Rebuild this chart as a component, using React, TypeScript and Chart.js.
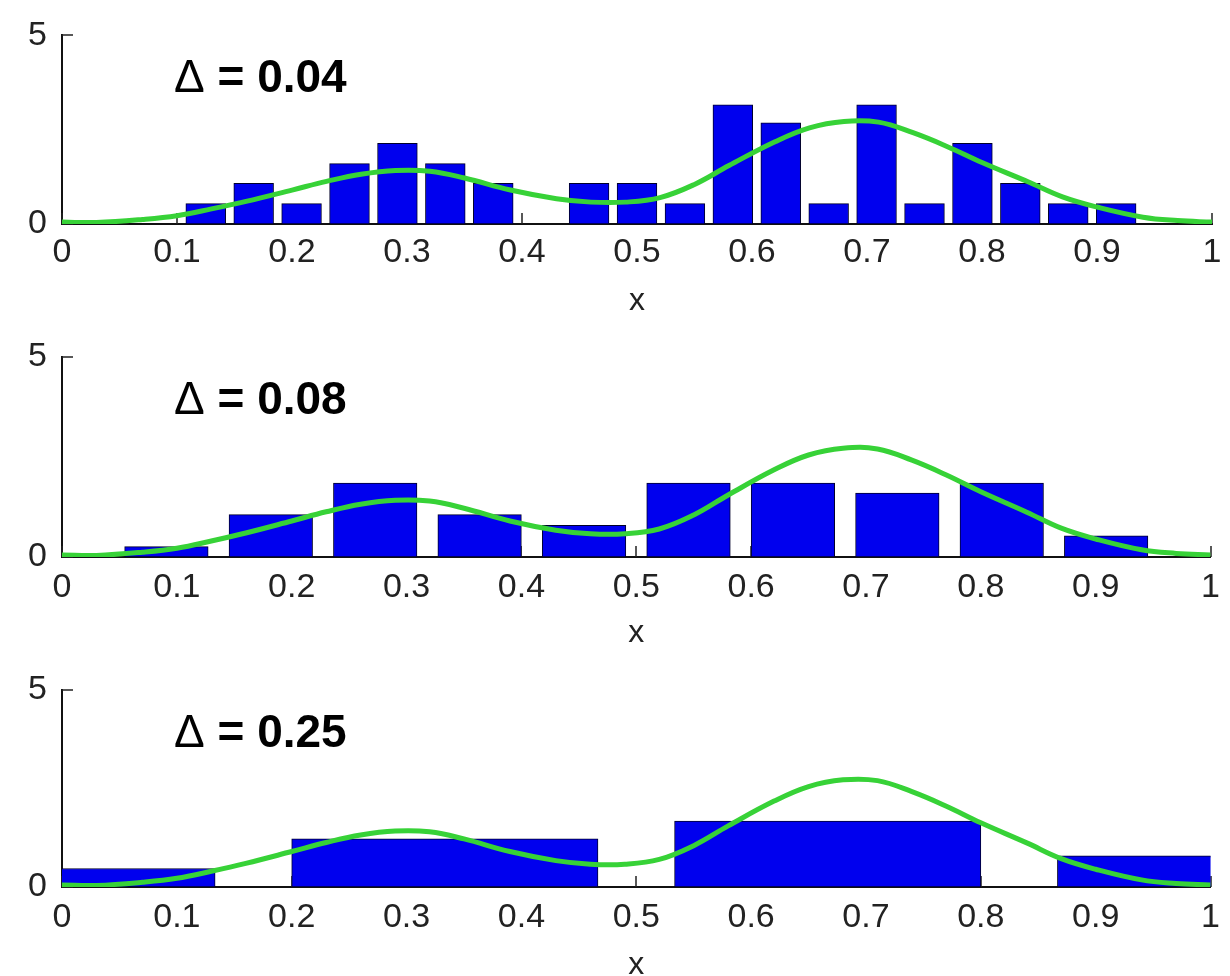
import React, { useEffect, useRef } from 'react';
import { Chart, registerables } from 'chart.js';

Chart.register(...registerables);

// Green density curve (same curve in every panel)
const curveX = [0, 0.03, 0.07, 0.1, 0.13, 0.16, 0.2, 0.23, 0.26, 0.29, 0.32, 0.35, 0.39, 0.43, 0.46, 0.49, 0.52, 0.55, 0.58, 0.62, 0.65, 0.68, 0.71, 0.74, 0.77, 0.8, 0.84, 0.87, 0.9, 0.94, 0.97, 1.0];
const curveY = [0.05, 0.04, 0.12, 0.22, 0.4, 0.6, 0.9, 1.13, 1.32, 1.42, 1.4, 1.22, 0.9, 0.67, 0.58, 0.58, 0.7, 1.05, 1.55, 2.18, 2.55, 2.72, 2.7, 2.42, 2.05, 1.63, 1.12, 0.72, 0.45, 0.18, 0.09, 0.05];

// Panel 1: delta = 0.04
const binCenters1 = [0, 0.0417, 0.0833, 0.125, 0.1667, 0.2083, 0.25, 0.2917, 0.3333, 0.375, 0.4167, 0.4583, 0.5, 0.5417, 0.5833, 0.625, 0.6667, 0.7083, 0.75, 0.7917, 0.8333, 0.875, 0.9167, 0.9583, 1];
const density1 = [0, 0, 0, 0.54, 1.08, 0.54, 1.6, 2.14, 1.6, 1.08, 0, 1.08, 1.08, 0.54, 3.16, 2.68, 0.54, 3.16, 0.54, 2.14, 1.08, 0.54, 0.54, 0, 0];

// Panel 2: delta = 0.08
const binCenters2 = [0, 0.0909, 0.1818, 0.2727, 0.3636, 0.4545, 0.5455, 0.6364, 0.7273, 0.8182, 0.9091, 1];
const density2 = [0, 0.26, 1.06, 1.85, 1.06, 0.79, 1.85, 1.85, 1.6, 1.85, 0.53, 0];

// Panel 3: delta = 0.25
const binCenters3 = [0, 0.3333, 0.6667, 1];
const density3 = [0.47, 1.22, 1.67, 0.79];

const deltaLabels = ['0.04', '0.08', '0.25'];

const xTickValues = [0, 0.1, 0.2, 0.3, 0.4, 0.5, 0.6, 0.7, 0.8, 0.9, 1];
const xTickLabels = ['0', '0.1', '0.2', '0.3', '0.4', '0.5', '0.6', '0.7', '0.8', '0.9', '1'];
const yTickValues = [0, 5];
const yTickLabels = ['0', '5'];

const TICK_FONT = "'Liberation Sans Narrow', 'Liberation Sans', Arial, sans-serif";
const LABEL_FONT = "'Liberation Sans', Arial, sans-serif";

const inwardTicks = {
  id: 'inwardTicks',
  beforeDatasetsDraw(chart: any) {
    const { ctx, chartArea, scales } = chart;
    const xs = scales.x;
    const ys = scales.y;
    ctx.save();
    ctx.strokeStyle = '#222';
    ctx.lineWidth = 1.5;
    ctx.beginPath();
    xs.ticks.forEach((t: any) => {
      const px = Math.round(xs.getPixelForValue(t.value));
      ctx.moveTo(px, chartArea.bottom);
      ctx.lineTo(px, chartArea.bottom - 11);
    });
    ys.ticks.forEach((t: any) => {
      const py = Math.round(ys.getPixelForValue(t.value));
      ctx.moveTo(chartArea.left, py);
      ctx.lineTo(chartArea.left + 11, py);
    });
    ctx.stroke();
    ctx.restore();
  },
};

const deltaLabel = {
  id: 'deltaLabel',
  afterDatasetsDraw(chart: any, _args: any, opts: any) {
    const { ctx, chartArea } = chart;
    ctx.save();
    ctx.fillStyle = '#000';
    ctx.textBaseline = 'alphabetic';
    ctx.textAlign = 'left';
    const x0 = chartArea.left + 112;
    const y0 = chartArea.top + 57;
    ctx.font = `normal 46px ${LABEL_FONT}`;
    ctx.fillText('\u0394', x0, y0);
    const w = ctx.measureText('\u0394').width;
    ctx.font = `bold 46px ${LABEL_FONT}`;
    ctx.fillText(' = ' + opts.value, x0 + w, y0);
    ctx.restore();
  },
};

type PanelProps = {
  top: number;
  height: number;
  areaTop: number;
  areaBottom: number;
  centers: number[];
  values: number[];
  delta: string;
  barPct: number;
  labelPad: number;
  titlePad: number;
};

function Panel(p: PanelProps) {
  const ref = useRef<HTMLCanvasElement>(null);
  useEffect(() => {
    const chart = new Chart(ref.current as HTMLCanvasElement, {
      type: 'bar',
      data: {
        datasets: [
          {
            type: 'line',
            label: 'density',
            data: curveX.map((x, i) => ({ x, y: curveY[i] })),
            borderColor: 'rgb(55,210,55)',
            borderWidth: 5,
            pointRadius: 0,
            tension: 0.4,
            fill: false,
            order: 0,
          } as any,
          {
            type: 'bar',
            label: 'histogram',
            data: p.centers.map((x, i) => ({ x, y: p.values[i] })),
            backgroundColor: 'rgb(0,0,238)',
            borderColor: '#00002a',
            borderWidth: 1,
            borderSkipped: false,
            barThickness: 'flex',
            categoryPercentage: 1,
            barPercentage: p.barPct,
            order: 1,
            clip: 0,
          } as any,
        ],
      },
      options: {
        animation: false,
        responsive: false,
        maintainAspectRatio: false,
        events: [],
        layout: { padding: { left: 0, right: 18, top: p.areaTop, bottom: 0 } },
        plugins: {
          legend: { display: false },
          tooltip: { enabled: false },
          deltaLabel: { value: p.delta },
        } as any,
        scales: {
          x: {
            type: 'linear',
            min: 0,
            max: 1,
            offset: false,
            grid: { display: false, drawTicks: false },
            border: { display: true, color: '#111', width: 2 },
            afterBuildTicks: (s: any) => {
              s.ticks = xTickValues.map((v) => ({ value: v }));
            },
            ticks: {
              autoSkip: false,
              maxRotation: 0,
              minRotation: 0,
              padding: p.labelPad,
              color: '#222',
              font: { family: TICK_FONT, size: 34 },
              callback: (_v: any, i: number) => xTickLabels[i],
            },
            title: {
              display: true,
              text: 'x',
              color: '#222',
              font: { family: TICK_FONT, size: 32, lineHeight: 0.7 },
              padding: { top: 0, bottom: p.titlePad },
            },
            afterFit: (s: any) => {
              s.height = p.height - p.areaBottom;
            },
          },
          y: {
            type: 'linear',
            min: 0,
            max: 5,
            grid: { display: false, drawTicks: false },
            border: { display: true, color: '#111', width: 2 },
            afterBuildTicks: (s: any) => {
              s.ticks = yTickValues.map((v) => ({ value: v }));
            },
            ticks: {
              padding: 15,
              color: '#222',
              font: { family: TICK_FONT, size: 34 },
              callback: (_v: any, i: number) => yTickLabels[i],
            },
            afterFit: (s: any) => {
              s.width = 62;
            },
          },
        } as any,
      },
      plugins: [inwardTicks, deltaLabel] as any,
    });
    return () => chart.destroy();
  }, []);
  return (
    <canvas
      ref={ref}
      width={1230}
      height={p.height}
      style={{ position: 'absolute', left: 0, top: p.top, width: 1230, height: p.height, display: 'block' }}
    />
  );
}

export default function App() {
  return (
    <div style={{ position: 'absolute', left: 0, top: 0, width: 1230, height: 976, background: '#fff', overflow: 'hidden' }}>
      <Panel top={0} height={320} areaTop={26} areaBottom={224} centers={binCenters1} values={density1} delta={deltaLabels[0]} barPct={0.83} labelPad={8} titlePad={8} />
      <Panel top={320} height={330} areaTop={37} areaBottom={237} centers={binCenters2} values={density2} delta={deltaLabels[1]} barPct={0.8} labelPad={10} titlePad={6} />
      <Panel top={650} height={326} areaTop={40} areaBottom={237} centers={binCenters3} values={density3} delta={deltaLabels[2]} barPct={0.8} labelPad={10} titlePad={0} />
    </div>
  );
}
